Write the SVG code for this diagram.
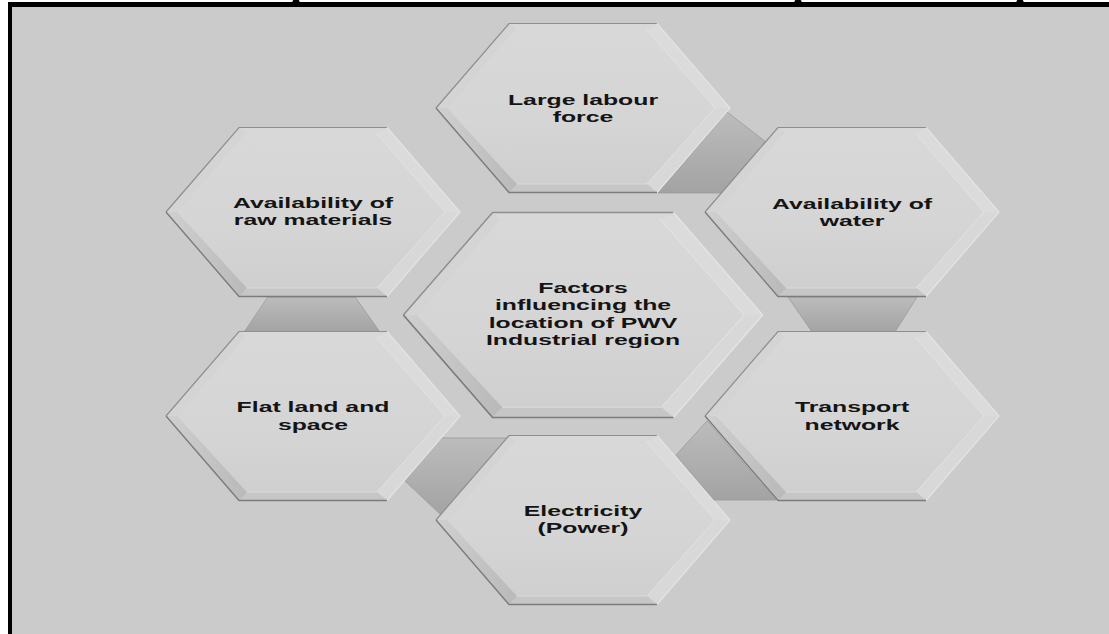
<svg xmlns="http://www.w3.org/2000/svg" xmlns:xlink="http://www.w3.org/1999/xlink" width="1109" height="634" viewBox="0 0 1109 634">
<style>
.lbl{font-family:"Liberation Sans",Arial,sans-serif;font-weight:bold;font-size:15.5px;fill:#141414;text-anchor:middle}
.conn{fill:url(#gConn);stroke:#9a9a9a;stroke-width:0.8}
</style>
<defs>
<linearGradient id="gFace" x1="0" y1="0" x2="0" y2="1">
<stop offset="0" stop-color="#d8d8d8"/><stop offset="0.6" stop-color="#d5d5d5"/><stop offset="1" stop-color="#cfcfcf"/>
</linearGradient>
<linearGradient id="gConn" x1="0" y1="0" x2="0" y2="1">
<stop offset="0" stop-color="#bcbcbc"/><stop offset="1" stop-color="#a3a3a3"/>
</linearGradient>
<linearGradient id="gLL" x1="0" y1="0" x2="1" y2="0">
<stop offset="0" stop-color="#d0d0d0"/><stop offset="1" stop-color="#b9b9b9"/>
</linearGradient>
<g id="hex">
<polygon points="-147,0 -74,-84.5 -68,-79 -136,0" fill="#d4d4d4"/>
<polygon points="-74,-84.5 74,-84.5 63,-79 -68,-79" fill="#d8d8d8"/>
<polygon points="74,-84.5 147,0 132,0 63,-79" fill="#dbdbdb"/>
<polygon points="147,0 74,84.5 64,76 132,0" fill="#d8d8d8"/>
<polygon points="74,84.5 -74,84.5 -66,76 64,76" fill="#c6c6c6"/>
<polygon points="-74,84.5 -147,0 -136,0 -66,76" fill="url(#gLL)"/>
<polygon points="-136,0 -68,-79 63,-79 132,0 64,76 -66,76" fill="url(#gFace)"/>
<polyline points="-147,0 -74,-84.5 74,-84.5" fill="none" stroke="#8e8e8e" stroke-width="1.2"/>
<polyline points="74,-84.5 147,0 74,84.5" fill="none" stroke="#e4e4e4" stroke-width="1.2"/>
<polyline points="74,84.5 -74,84.5 -147,0" fill="none" stroke="#7c7c7c" stroke-width="1.4"/>
<polyline points="63,-79 132,0 64,76" fill="none" stroke="#e6e6e6" stroke-width="0.8"/>
<polyline points="-66,76 64,76" fill="none" stroke="#dedede" stroke-width="0.8"/>
</g>
</defs>
<rect x="0" y="0" width="1109" height="634" fill="#ffffff"/>
<rect x="8" y="2" width="1101" height="632" fill="#cbcbcb"/>
<rect x="8" y="2" width="1101" height="5" fill="#000000"/>
<rect x="8" y="2" width="4" height="632" fill="#000000"/>
<ellipse cx="296" cy="1.5" rx="3.5" ry="2" fill="#000"/>
<ellipse cx="798" cy="1.5" rx="3.5" ry="2" fill="#000"/>
<ellipse cx="1020" cy="1.5" rx="3.5" ry="2" fill="#000"/>

<g id="connectors">
<polygon class="conn" points="727,112 766,142 721,193 658,193"/>
<polygon class="conn" points="788,297 917,297 895,332 812,332"/>
<polygon class="conn" points="707,421 676,455 713,500 776,500"/>
<polygon class="conn" points="441,438 507,438 441,515 404,480"/>
<polygon class="conn" points="268,297 355,297 380,332 244,332"/>
</g>

<g id="node-center">
<use xlink:href="#hex" href="#hex" transform="translate(583,315) scale(1.222,1.213)"/>
<g transform="translate(583,0) scale(1.6,1)">
<text class="lbl" x="0" y="293">Factors</text>
<text class="lbl" x="0" y="310.5">influencing the</text>
<text class="lbl" x="0" y="328">location of PWV</text>
<text class="lbl" x="0" y="345.5">Industrial region</text>
</g>
</g>

<g id="node-labour">
<use xlink:href="#hex" href="#hex" transform="translate(583,108)"/>
<g transform="translate(583,0) scale(1.6,1)">
<text class="lbl" x="0" y="105">Large labour</text>
<text class="lbl" x="0" y="122.5">force</text>
</g>
</g>

<g id="node-raw">
<use xlink:href="#hex" href="#hex" transform="translate(313,212)"/>
<g transform="translate(313,0) scale(1.6,1)">
<text class="lbl" x="0" y="208">Availability of</text>
<text class="lbl" x="0" y="225.5">raw materials</text>
</g>
</g>

<g id="node-water">
<use xlink:href="#hex" href="#hex" transform="translate(852,212)"/>
<g transform="translate(852,0) scale(1.6,1)">
<text class="lbl" x="0" y="209">Availability of</text>
<text class="lbl" x="0" y="226.5">water</text>
</g>
</g>

<g id="node-flat">
<use xlink:href="#hex" href="#hex" transform="translate(313,416)"/>
<g transform="translate(313,0) scale(1.6,1)">
<text class="lbl" x="0" y="412.5">Flat land and</text>
<text class="lbl" x="0" y="430">space</text>
</g>
</g>

<g id="node-transport">
<use xlink:href="#hex" href="#hex" transform="translate(852,416)"/>
<g transform="translate(852,0) scale(1.6,1)">
<text class="lbl" x="0" y="412.5">Transport</text>
<text class="lbl" x="0" y="430">network</text>
</g>
</g>

<g id="node-electricity">
<use xlink:href="#hex" href="#hex" transform="translate(583,520)"/>
<g transform="translate(583,0) scale(1.6,1)">
<text class="lbl" x="0" y="516">Electricity</text>
<text class="lbl" x="0" y="533.5">(Power)</text>
</g>
</g>
</svg>
